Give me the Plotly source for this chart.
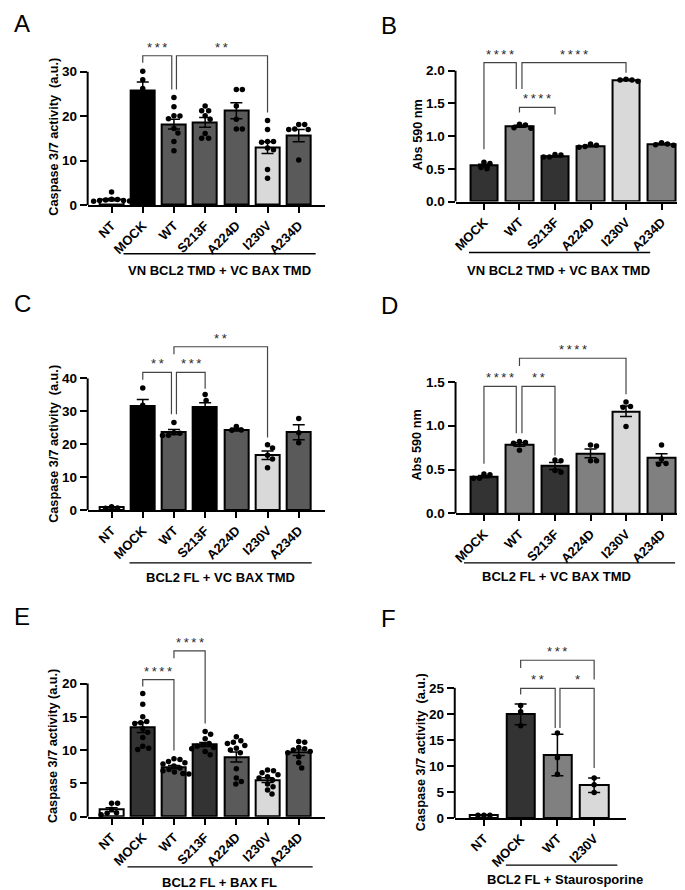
import plotly.graph_objects as go

W, H = 685, 890
FONT = "Arial, Liberation Sans, Helvetica, sans-serif"

# ---------------- categories ----------------
CATS_7 = ["NT", "MOCK", "WT", "S213F", "A224D", "I230V", "A234D"]
CATS_6 = ["MOCK", "WT", "S213F", "A224D", "I230V", "A234D"]
CATS_4 = ["NT", "MOCK", "WT", "I230V"]

# ---------------- Panel A : VN BCL2 TMD + VC BAX TMD (caspase) ----------------
A_MEAN = [1.2, 25.7, 18.2, 18.6, 21.2, 12.9, 15.6]
A_ERR = [0.25, 2.0, 1.1, 1.1, 1.8, 1.3, 1.4]
A_PTS = [
    [2.9, 1.3, 1.2, 1.1, 1.0, 1.0, 0.9, 0.8],
    [30.1, 28.2, 26.2, 22.3, 21.8],
    [24.2, 22.1, 20.1, 20.0, 19.4, 17.2, 16.2, 14.3, 12.2],
    [22.3, 21.2, 21.2, 20.1, 19.3, 16.1, 15.0, 15.0],
    [26.0, 26.0, 22.3, 19.3, 17.1, 17.1],
    [19.0, 17.0, 14.3, 14.3, 14.1, 12.8, 12.4, 8.0, 6.0],
    [18.1, 18.1, 17.1, 17.0, 17.0, 10.1],
]
A_TICKS = [0, 10, 20, 30]

# ---------------- Panel B : VN BCL2 TMD + VC BAX TMD (Abs 590) ----------------
B_MEAN = [0.55, 1.15, 0.69, 0.85, 1.86, 0.88]
B_ERR = [0.02, 0.015, 0.01, 0.012, 0.008, 0.01]
B_PTS = [
    [0.52, 0.58, 0.60, 0.50],
    [1.13, 1.18, 1.17, 1.12],
    [0.71, 0.68, 0.68, 0.72],
    [0.86, 0.88, 0.84, 0.83],
    [1.84, 1.87, 1.86, 1.86],
    [0.88, 0.90, 0.87, 0.86],
]
B_TICKS = [0.0, 0.5, 1.0, 1.5, 2.0]

# ---------------- Panel C : BCL2 FL + VC BAX TMD (caspase) ----------------
C_MEAN = [0.75, 31.6, 23.7, 31.4, 24.4, 16.6, 23.6]
C_ERR = [0.15, 2.0, 0.75, 1.2, 0.4, 1.3, 2.3]
C_PTS = [
    [1.0, 0.5, 0.6],
    [37.1, 31.8, 30.0, 28.0],
    [26.6, 23.5, 22.7, 22.6, 23.3],
    [35.1, 33.3, 29.0, 28.4],
    [25.4, 24.3, 24.2],
    [19.8, 18.8, 16.6, 15.5, 12.8],
    [27.8, 23.5, 20.4],
]
C_TICKS = [0, 10, 20, 30, 40]

# ---------------- Panel D : BCL2 FL + VC BAX TMD (Abs 590) ----------------
D_MEAN = [0.42, 0.785, 0.54, 0.685, 1.165, 0.63]
D_ERR = [0.012, 0.02, 0.04, 0.05, 0.06, 0.05]
D_PTS = [
    [0.45, 0.44, 0.40, 0.40],
    [0.82, 0.81, 0.80, 0.72],
    [0.61, 0.60, 0.49, 0.47],
    [0.78, 0.77, 0.60, 0.60],
    [1.27, 1.22, 1.21, 0.99],
    [0.78, 0.62, 0.57, 0.56],
]
D_TICKS = [0.0, 0.5, 1.0, 1.5]

# ---------------- Panel E : BCL2 FL + BAX FL (caspase) ----------------
E_MEAN = [1.05, 13.4, 7.45, 10.85, 8.95, 5.5, 9.6]
E_ERR = [0.3, 0.75, 0.25, 0.3, 0.75, 0.35, 0.4]
E_PTS = [
    [2.0, 2.0, 1.1, 0.6, 0.5, 0.3],
    [18.5, 16.9, 15.0, 14.3, 14.0, 14.1, 13.2, 12.7, 11.9, 10.6, 10.3, 10.1],
    [8.7, 8.6, 8.3, 8.1, 7.9, 7.6, 7.3, 7.1, 6.9, 6.7, 6.5, 6.4],
    [12.8, 12.4, 11.7, 11.0, 10.8, 10.6, 10.4, 10.2, 9.8, 9.3],
    [12.0, 11.2, 11.4, 11.0, 10.7, 10.3, 10.0, 9.6, 7.2, 5.8, 5.3, 4.9],
    [7.0, 6.9, 6.6, 6.3, 6.0, 5.8, 5.5, 4.9, 4.5, 4.0, 3.4],
    [11.3, 11.2, 10.4, 10.2, 10.0, 9.8, 9.6, 9.0, 8.1, 7.3],
]
E_TICKS = [0, 5, 10, 15, 20]

# ---------------- Panel F : BCL2 FL + Staurosporine (caspase, SD) ----------------
F_MEAN = [0.5, 19.9, 12.1, 6.3]
F_ERR = [0.05, 2.0, 4.0, 1.4]
F_PTS = [
    [0.5, 0.5, 0.5],
    [21.6, 20.4, 17.7],
    [16.3, 11.55, 8.4],
    [7.7, 6.4, 4.9],
]
F_TICKS = [0, 5, 10, 15, 20, 25]

# ---------------- styles ----------------
BLACK, DARK, GRAY, MID, LIGHT, WHITE = "#000000", "#333333", "#5a5a5a", "#808080", "#d9d9d9", "#ffffff"
CASP = "Caspase 3/7 activity\u00a0 (a.u.)"

panels = [
    dict(letter="A", letter_xy=(1, 0), cats=CATS_7, mean=A_MEAN, err=A_ERR, pts=A_PTS, ticks=A_TICKS,
         colors=[WHITE, BLACK, GRAY, GRAY, GRAY, LIGHT, GRAY],
         xpx=(77, 315), zero=198.7, toptick_px=64.3, ymax=37.5, xr=(-0.766, 6.83),
         ytitle=CASP, ytitle_xy=(43, 130),
         group="VN BCL2 TMD + VC BAX TMD", gline=(113, 306, 248), gtext=(209, 265),
         brackets=[(1, 0, 2, -0.07, 33.6, 32.0, 26.0, 3), (2, 0.08, 5, 0, 33.6, 26.0, 20.8, 2)]),
    dict(letter="B", letter_xy=(370, 2), cats=CATS_6, mean=B_MEAN, err=B_ERR, pts=B_PTS, ticks=B_TICKS,
         colors=[DARK, MID, DARK, MID, LIGHT, MID],
         xpx=(446.5, 683), zero=195.3, toptick_px=63.3, ymax=2.42, xr=(-0.8, 5.83),
         ytitle="Abs 590 nm", ytitle_xy=(408.3, 128),
         group="VN BCL2 TMD + VC BAX TMD", gline=(460, 642, 246.7), gtext=(550, 265),
         brackets=[(0, 0, 1, -0.09, 2.125, 0.8, 1.72, 4), (1, 0.07, 4, 0, 2.125, 1.72, 1.97, 4),
                   (1, 0, 2, 0, 1.44, 1.36, 1.33, 4)]),
    dict(letter="C", letter_xy=(1, 283), cats=CATS_7, mean=C_MEAN, err=C_ERR, pts=C_PTS, ticks=C_TICKS,
         colors=[WHITE, BLACK, GRAY, BLACK, GRAY, LIGHT, GRAY],
         xpx=(77, 315), zero=506.5, toptick_px=373.7, ymax=55, xr=(-0.766, 6.83),
         ytitle=CASP, ytitle_xy=(43, 440),
         group="BCL2 FL + VC BAX TMD", gline=(119, 302, 560), gtext=(210.7, 574.3),
         brackets=[(1, 0, 2, -0.08, 41.8, 39.6, 29.1, 2), (2, 0.08, 3, 0, 41.8, 29.1, 36.8, 3),
                   (2, 0, 5, 0, 49.6, 47.3, 22.0, 2)]),
    dict(letter="D", letter_xy=(370, 285), cats=CATS_6, mean=D_MEAN, err=D_ERR, pts=D_PTS, ticks=D_TICKS,
         colors=[DARK, MID, DARK, MID, LIGHT, MID],
         xpx=(446.5, 683), zero=510, toptick_px=377.3, ymax=1.97, xr=(-0.8, 5.83),
         ytitle="Abs 590 nm", ytitle_xy=(408.3, 441),
         group="BCL2 FL + VC BAX TMD", gline=(455, 667, 560), gtext=(548.3, 573.3),
         brackets=[(0, 0, 1, -0.09, 1.45, 0.566, 0.913, 4), (1, 0.07, 2, 0, 1.45, 0.913, 0.66, 2),
                   (1, 0, 4, 0, 1.77, 1.68, 1.36, 4)]),
    dict(letter="E", letter_xy=(1, 598), cats=CATS_7, mean=E_MEAN, err=E_ERR, pts=E_PTS, ticks=E_TICKS,
         colors=[WHITE, DARK, GRAY, DARK, GRAY, LIGHT, GRAY],
         xpx=(77, 315), zero=816, toptick_px=681.7, ymax=28, xr=(-0.766, 6.83),
         ytitle="Caspase 3/7 activity (a.u.)", ytitle_xy=(42, 745),
         group="BCL2 FL + BAX FL", gline=(117, 303, 866.7), gtext=(209.3, 882.7),
         brackets=[(1, 0, 2, 0, 20.6, 19.55, 9.95, 4), (2, 0, 3, 0, 24.9, 23.8, 14.0, 4)]),
    dict(letter="F", letter_xy=(370, 600), cats=CATS_4, mean=F_MEAN, err=F_ERR, pts=F_PTS, ticks=F_TICKS,
         colors=[WHITE, DARK, MID, LIGHT],
         xpx=(445.7, 618), zero=817.3, toptick_px=686, ymax=34, xr=(-0.794, 3.875),
         ytitle=CASP, ytitle_xy=(411.7, 751),
         group="BCL2 FL + Staurosporine", gline=(497, 609, 865), gtext=(556.7, 879.3),
         brackets=[(1, 0, 2, -0.06, 24.9, 23.7, 17.3, 2), (2, 0.07, 3, 0, 24.9, 17.3, 9.6, 1),
                   (1, 0, 3, 0, 30.3, 28.8, 26.6, 3)]),
]


def swarm(vals, px_per_unit, px_per_cat, diam=6.0):
    """Deterministic beeswarm offsets (in category units)."""
    placed = []
    offs = [0.0] * len(vals)
    cands = [0.0]
    for k in range(1, 60):
        cands += [k * 0.5, -k * 0.5]
    order = sorted(range(len(vals)), key=lambda i: -vals[i])
    for i in order:
        y = vals[i] * px_per_unit
        for c in cands:
            if all((c - px) ** 2 + (y - py) ** 2 >= diam ** 2 for px, py in placed):
                placed.append((c, y))
                offs[i] = c / px_per_cat
                break
    return offs


def fmt_tick(v, ticks):
    if any(isinstance(t, float) for t in ticks):
        return f"{v:.1f}"
    return str(int(v))


fig = go.Figure()
shapes, annots = [], []
layout_axes = {}

for k, P in enumerate(panels):
    n = k + 1
    xs = "x" if n == 1 else f"x{n}"
    ys = "y" if n == 1 else f"y{n}"
    xkey = "xaxis" if n == 1 else f"xaxis{n}"
    ykey = "yaxis" if n == 1 else f"yaxis{n}"

    x0, x1 = P["xpx"]
    toptick_val = P["ticks"][-1]
    scale = (P["zero"] - P["toptick_px"]) / toptick_val
    top_px = P["zero"] - P["ymax"] * scale
    px_per_cat = (x1 - x0) / (P["xr"][1] - P["xr"][0])
    idx = list(range(len(P["cats"])))

    fig.add_trace(go.Bar(
        x=idx, y=P["mean"], width=0.77, xaxis=xs, yaxis=ys, showlegend=False, hoverinfo="skip",
        marker=dict(color=P["colors"], line=dict(color="black", width=2)),
        error_y=dict(type="data", array=P["err"], visible=True, color="black", thickness=1.5, width=6),
    ))
    sx, sy = [], []
    for i, vals in enumerate(P["pts"]):
        offs = swarm(vals, scale, px_per_cat)
        sx += [i + o for o in offs]
        sy += vals
    fig.add_trace(go.Scatter(
        x=sx, y=sy, mode="markers", xaxis=xs, yaxis=ys, showlegend=False, hoverinfo="skip",
        marker=dict(color="black", size=5.5, line=dict(width=0)), cliponaxis=False,
    ))

    layout_axes[xkey] = dict(
        domain=[x0 / W, x1 / W], range=list(P["xr"]), anchor=ys,
        tickmode="array", tickvals=idx, ticktext=P["cats"], tickangle=-45,
        ticks="outside", ticklen=6, tickwidth=2, tickcolor="black",
        showline=True, linewidth=2, linecolor="black", showgrid=False, zeroline=False,
        tickfont=dict(family=FONT, size=13, color="black", weight="bold"), fixedrange=True,
    )
    layout_axes[ykey] = dict(
        domain=[1 - P["zero"] / H, 1 - top_px / H], range=[0, P["ymax"]], anchor=xs,
        tickmode="array", tickvals=P["ticks"], ticktext=[fmt_tick(t, P["ticks"]) for t in P["ticks"]],
        ticks="outside", ticklen=7, tickwidth=2, tickcolor="black",
        showline=False, showgrid=False, zeroline=False,
        tickfont=dict(family=FONT, size=13.5, color="black", weight="bold"), fixedrange=True,
    )
    # y axis line up to the top tick only
    shapes.append(dict(type="line", xref=f"{xs} domain", yref=ys, x0=0, x1=0, y0=0, y1=toptick_val,
                       line=dict(color="black", width=2)))

    # significance brackets
    for (ia, oa, ib, ob, yt, yla, ylb, ns) in P["brackets"]:
        xa, xb = ia + oa, ib + ob
        shapes.append(dict(type="path", xref=xs, yref=ys,
                           path=f"M {xa},{yla} L {xa},{yt} L {xb},{yt} L {xb},{ylb}",
                           line=dict(color="#444444", width=1.2)))
        annots.append(dict(x=(xa + xb) / 2, y=yt, xref=xs, yref=ys, text="\u2009".join("*" * ns),
                           showarrow=False, yanchor="bottom", xanchor="center", yshift=-1,
                           font=dict(family=FONT, size=13, color="#2a2a2a")))

    # group line + label
    gx0, gx1, gy = P["gline"]
    shapes.append(dict(type="line", xref="paper", yref="paper", x0=gx0 / W, x1=gx1 / W,
                       y0=1 - gy / H, y1=1 - gy / H, line=dict(color="black", width=1.3)))
    tx, ty = P["gtext"]
    annots.append(dict(x=tx / W, y=1 - ty / H, xref="paper", yref="paper", text=P["group"],
                       showarrow=False, xanchor="center", yanchor="middle",
                       font=dict(family=FONT, size=13, color="black", weight="bold")))
    # y title
    yx, yy = P["ytitle_xy"]
    annots.append(dict(x=yx / W, y=1 - yy / H, xref="paper", yref="paper", text=P["ytitle"],
                       showarrow=False, textangle=-90, xanchor="center", yanchor="middle",
                       font=dict(family=FONT, size=12.7, color="black", weight="bold")))
    # panel letter
    lx, ly = P["letter_xy"]
    annots.append(dict(x=lx / W, y=1 - ly / H, xref="paper", yref="paper", text=P["letter"],
                       showarrow=False, xanchor="left", yanchor="top",
                       font=dict(family=FONT, size=24, color="black")))

fig.update_layout(
    width=W, height=H, margin=dict(l=0, r=0, t=0, b=0),
    paper_bgcolor="white", plot_bgcolor="white",
    font=dict(family=FONT, color="black"),
    bargap=0, shapes=shapes, annotations=annots, **layout_axes,
)

fig.write_html("out.html")
